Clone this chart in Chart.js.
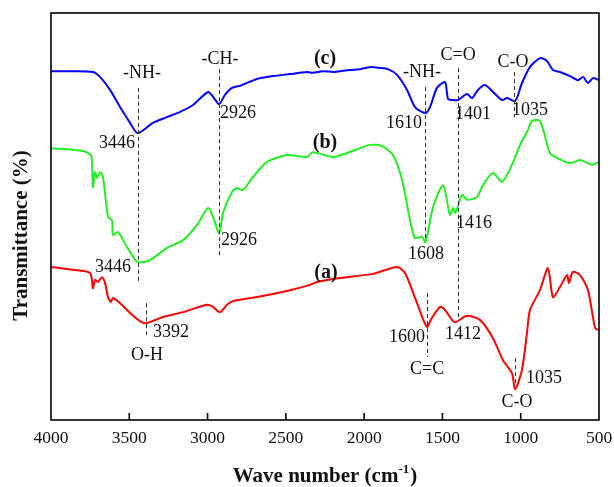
<!DOCTYPE html>
<html><head><meta charset="utf-8">
<script src="https://cdn.jsdelivr.net/npm/chart.js@4/dist/chart.umd.min.js"></script>
<style>html,body{margin:0;padding:0;background:#fff}#wrap{width:614px;height:487px}</style>
</head><body><div id="wrap"><canvas id="c" width="614" height="487"></canvas></div>
<script>
// x tick labels (wave number, cm-1)
const xTicks = [4000, 3500, 3000, 2500, 2000, 1500, 1000, 500];

// (a) red spectrum: [wave number, transmittance a.u.]
const seriesA = [[4000,37.6],[3860,36.9],[3751,36.1],[3732,32.4],[3719,34.4],[3700,33.9],[3674,35.1],[3655,33.7],[3636,30.2],[3617,29.0],[3604,30.0],[3559,28.7],[3495,26.3],[3432,24.3],[3392,23.8],[3285,25.3],[3157,26.5],[3004,28.3],[2965,27.8],[2921,26.5],[2876,28.3],[2838,29.2],[2684,30.2],[2473,31.9],[2346,33.2],[2301,33.9],[2154,34.9],[1943,35.9],[1790,37.6],[1739,36.1],[1662,28.7],[1600,22.9],[1567,25.1],[1515,27.8],[1483,27.0],[1432,24.3],[1412,24.1],[1343,25.6],[1260,24.6],[1177,20.1],[1113,14.7],[1056,11.5],[1035,7.6],[992,12.3],[960,21.4],[941,27.0],[877,31.9],[826,37.3],[794,30.2],[749,32.7],[704,35.6],[692,33.7],[666,36.4],[621,35.6],[570,31.9],[525,22.6],[500,22.1]];

// (b) green spectrum
const seriesB = [[4000,66.8],[3796,66.1],[3745,65.1],[3738,63.1],[3732,57.2],[3719,60.9],[3706,59.5],[3687,60.9],[3668,59.7],[3636,49.9],[3610,49.1],[3604,45.5],[3572,46.2],[3515,42.5],[3446,38.8],[3368,39.3],[3259,42.3],[3157,44.2],[3068,47.9],[2997,52.1],[2965,49.9],[2926,45.9],[2901,50.9],[2844,56.0],[2812,57.0],[2774,56.5],[2710,59.7],[2620,63.4],[2493,65.1],[2365,64.6],[2327,65.8],[2199,64.6],[2109,65.6],[1962,67.6],[1886,67.3],[1816,65.1],[1758,59.0],[1707,49.1],[1675,44.7],[1630,45.0],[1608,43.7],[1560,52.3],[1496,57.7],[1452,50.4],[1432,52.1],[1416,50.9],[1375,55.3],[1343,54.1],[1279,54.8],[1241,57.7],[1177,60.7],[1119,58.5],[1056,62.7],[1004,67.6],[953,71.3],[928,73.5],[877,73.5],[813,65.6],[768,64.4],[685,63.1],[621,63.9],[545,62.7],[500,63.4]];

// (c) blue spectrum
const seriesC = [[4000,85.7],[3860,85.7],[3732,85.5],[3687,84.3],[3623,81.1],[3559,76.9],[3495,73.0],[3446,70.5],[3349,73.0],[3259,74.4],[3176,75.7],[3093,77.4],[2997,80.6],[2965,79.4],[2926,77.6],[2889,79.9],[2844,81.6],[2793,82.1],[2684,83.8],[2582,84.5],[2473,85.0],[2365,85.5],[2327,85.3],[2263,85.7],[2199,85.5],[2154,85.7],[2090,86.0],[2026,86.2],[1962,86.7],[1899,86.5],[1848,86.2],[1790,84.8],[1726,81.1],[1675,76.9],[1610,75.4],[1579,76.9],[1535,81.6],[1483,83.0],[1464,78.9],[1432,78.6],[1401,78.6],[1343,80.1],[1311,79.1],[1273,81.1],[1228,82.3],[1177,80.6],[1119,78.6],[1087,79.1],[1035,78.4],[992,82.8],[941,86.7],[877,88.9],[832,88.2],[794,86.0],[749,85.5],[685,84.5],[634,83.5],[602,84.3],[570,82.8],[538,84.0],[500,83.5]];

// peak / group labels: [wave number, transmittance, text, bold]
const peakLabels = [
  [2250,88.7,'(c)',true],[2250,68.1,'(b)',true],[2244,36.1,'(a)',true],
  [3419,85.3,'-NH-',false],[2921,88.7,'-CH-',false],[3578,68.1,'3446',false],[2806,75.4,'2926',false],
  [1630,85.5,'-NH-',false],[1400,89.7,'C=O',false],[1049,88.0,'C-O',false],
  [1745,73.0,'1610',false],[1305,75.2,'1401',false],[941,76.2,'1035',false],
  [3604,37.6,'3446',false],[2799,44.2,'2926',false],[1605,40.8,'1608',false],[1298,48.4,'1416',false],
  [3234,21.6,'3392',false],[3387,16.0,'O-H',false],[1726,20.4,'1600',false],[1369,21.1,'1412',false],
  [1598,12.5,'C=C',false],[851,10.3,'1035',false],[1024,4.4,'C-O',false]
];

// dashed guide lines: [wave number, top, bottom]
const guideLines = [
  [3446,81.6,33.7],[2926,86.2,40.5],[1610,81.8,44.0],[1401,86.5,25.3],[1042,85.5,74.4],
  [3392,28.7,20.4],[1600,31.2,15.5],[1035,15.2,9.1]
];

const xTitleMain = 'Wave number (cm';
const xTitleSup = '-1';
const yTitle = 'Transmittance (%)';

const toPts = s => s.map(([x, y]) => ({x, y}));

const deco = {
  id: 'deco',
  afterDatasetsDraw(chart) {
    const {ctx, chartArea: a, scales: {x, y}} = chart;
    ctx.save();
    ctx.strokeStyle = '#333'; ctx.lineWidth = 1; ctx.setLineDash([4, 3]);
    guideLines.forEach(([w, t, b]) => {
      const px = Math.round(x.getPixelForValue(w)) + 0.5;
      ctx.beginPath(); ctx.moveTo(px, y.getPixelForValue(t)); ctx.lineTo(px, y.getPixelForValue(b)); ctx.stroke();
    });
    ctx.setLineDash([]);
    ctx.strokeStyle = '#000'; ctx.lineWidth = 1.6;
    ctx.strokeRect(a.left, a.top, a.right - a.left, a.bottom - a.top);
    x.ticks.forEach(t => {
      if (t.value === x.min || t.value === x.max) return;
      const px = x.getPixelForValue(t.value);
      ctx.beginPath(); ctx.moveTo(px, a.bottom); ctx.lineTo(px, a.bottom - 7); ctx.stroke();
    });
    ctx.fillStyle = '#111'; ctx.textAlign = 'center'; ctx.textBaseline = 'middle';
    peakLabels.forEach(([w, v, txt, bold]) => {
      ctx.font = bold ? 'bold 20px "Liberation Serif"' : '18px "Liberation Serif"';
      ctx.fillText(txt, x.getPixelForValue(w), y.getPixelForValue(v));
    });
    // y title
    ctx.save();
    ctx.translate(22, (a.top + a.bottom) / 2 + 19);
    ctx.rotate(-Math.PI / 2);
    ctx.font = 'bold 21px "Liberation Serif"';
    ctx.fillText(yTitle, 0, 0);
    ctx.restore();
    // x title with superscript
    ctx.textAlign = 'left'; ctx.textBaseline = 'alphabetic';
    const fMain = 'bold 21px "Liberation Serif"', fSup = 'bold 13px "Liberation Serif"';
    ctx.font = fMain; const w1 = ctx.measureText(xTitleMain).width; const w3 = ctx.measureText(')').width;
    ctx.font = fSup; const w2 = ctx.measureText(xTitleSup).width;
    let sx = (a.left + a.right) / 2 - (w1 + w2 + w3 + 1) / 2;
    const by = 482;
    ctx.font = fMain; ctx.fillText(xTitleMain, sx, by); sx += w1;
    ctx.font = fSup; ctx.fillText(xTitleSup, sx, by - 9); sx += w2 + 1;
    ctx.font = fMain; ctx.fillText(')', sx, by);
    ctx.restore();
  }
};

const ds = (data, color) => ({data: toPts(data), borderColor: color, borderWidth: 2, pointRadius: 0, tension: 0.25, fill: false});

new Chart(document.getElementById('c'), {
  type: 'line',
  data: {datasets: [ds(seriesA, '#ff0000'), ds(seriesB, '#22ee22'), ds(seriesC, '#0000ff')]},
  options: {
    responsive: false, animation: false, devicePixelRatio: 1,
    layout: {padding: {top: 13, right: 15, left: 0, bottom: 0}},
    plugins: {legend: {display: false}, tooltip: {enabled: false}},
    scales: {
      x: {
        type: 'linear', reverse: true, min: 500, max: 4000,
        afterBuildTicks: s => { s.ticks = xTicks.map(v => ({value: v})); },
        ticks: {font: {family: 'Liberation Serif', size: 17.5}, color: '#111', padding: 8, maxRotation: 0, autoSkip: false, callback: v => String(v)},
        grid: {display: false, drawTicks: false}, border: {display: false},
        afterFit: s => { s.height = 67; s.paddingLeft = 0; s.paddingRight = 0; }
      },
      y: {
        min: 0, max: 100,
        ticks: {display: false}, grid: {display: false, drawTicks: false}, border: {display: false},
        afterFit: s => { s.width = 51; }
      }
    }
  },
  plugins: [deco]
});
</script></body></html>
